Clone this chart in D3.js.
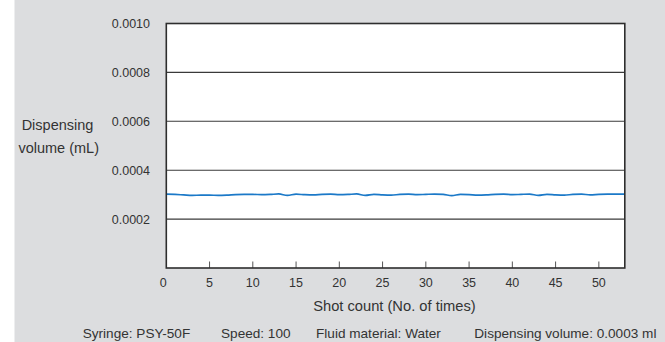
<!DOCTYPE html>
<html><head><meta charset="utf-8">
<script src="https://cdn.jsdelivr.net/npm/d3@7"></script>
<style>
html,body{margin:0;padding:0;background:#fff;}
svg{display:block;font-family:"Liberation Sans",Arial,sans-serif;}
</style></head>
<body>
<svg id="chart" width="665" height="342"></svg>
<script>
// Data
const shots = d3.range(0, 54);
const volumes = [
 0.000302,0.000301,0.000299,0.000297,0.000298,0.000298,0.000297,0.000298,0.000300,0.000301,
 0.000301,0.000300,0.000301,0.000303,0.000297,0.000302,0.000300,0.000299,0.000301,0.000302,
 0.000300,0.000301,0.000303,0.000297,0.000301,0.000299,0.000298,0.000301,0.000302,0.000300,
 0.000301,0.000302,0.000301,0.000296,0.000301,0.000300,0.000298,0.000299,0.000301,0.000302,
 0.000300,0.000301,0.000302,0.000297,0.000301,0.000299,0.000298,0.000301,0.000302,0.000299,
 0.000301,0.000302,0.000302,0.000302
];
const xTicks = [5,10,15,20,25,30,35,40,45,50];
const xTickLabels = ["0","5","10","15","20","25","30","35","40","45","50"];
const yTicks = [0.0002,0.0004,0.0006,0.0008,0.0010];
const yTickLabels = ["0.0002","0.0004","0.0006","0.0008","0.0010"];
const yTitle = ["Dispensing","volume (mL)"];
const xTitle = "Shot count (No. of times)";
const footer = [
  {text:"Syringe: PSY-50F", x:82.7},
  {text:"Speed: 100", x:221},
  {text:"Fluid material: Water", x:316},
  {text:"Dispensing volume: 0.0003 ml", x:474.3}
];

const svg = d3.select("#chart");
// background
svg.append("rect").attr("x",14.5).attr("y",0).attr("width",665-14.5).attr("height",342).attr("fill","#dcdddf");

const x = d3.scaleLinear().domain([0,53]).range([166.3,624.8]);
const y = d3.scaleLinear().domain([0,0.0010]).range([268,23.5]);

// plot area
svg.append("rect").attr("x",x(0)).attr("y",y(0.001)).attr("width",x(53)-x(0)).attr("height",y(0)-y(0.001)).attr("fill","#fff");

// gridlines
svg.append("g").selectAll("line").data(yTicks.slice(0,4)).join("line")
  .attr("x1",x(0)).attr("x2",x(53)).attr("y1",d=>y(d)).attr("y2",d=>y(d))
  .attr("stroke","#3a3a3a").attr("stroke-width",1.1);

// x ticks (inward)
svg.append("g").selectAll("line").data(xTicks).join("line")
  .attr("x1",d=>x(d)).attr("x2",d=>x(d)).attr("y1",y(0)).attr("y2",y(0)-6.5)
  .attr("stroke","#555").attr("stroke-width",1);

// line
const line = d3.line().x((d,i)=>x(shots[i])).y(d=>y(d)).curve(d3.curveMonotoneX);
svg.append("path").datum(volumes).attr("d",line).attr("fill","none")
  .attr("stroke","#1b79c8").attr("stroke-width",1.6);

// frame
svg.append("rect").attr("x",x(0)).attr("y",y(0.001)).attr("width",x(53)-x(0)).attr("height",y(0)-y(0.001))
  .attr("fill","none").attr("stroke","#2e2e2e").attr("stroke-width",1.6);

// y tick labels
svg.append("g").selectAll("text").data(yTicks).join("text")
  .attr("x",150).attr("y",d=>y(d)+4.5).attr("text-anchor","end")
  .attr("font-size",12.5).attr("fill","#333").text((d,i)=>yTickLabels[i]);

// x tick labels
const xLabVals = [0].concat(xTicks);
svg.append("g").selectAll("text").data(xLabVals).join("text")
  .attr("x",(d,i)=> i===0 ? x(d)-3 : x(d)).attr("y",286.5).attr("text-anchor","middle")
  .attr("font-size",12.5).attr("fill","#333").text((d,i)=>xTickLabels[i]);

// y title
svg.append("text").attr("x",57.5).attr("y",129.5).attr("text-anchor","middle")
  .attr("font-size",14.5).attr("fill","#333").text(yTitle[0]);
svg.append("text").attr("x",58.7).attr("y",153).attr("text-anchor","middle")
  .attr("font-size",14.5).attr("fill","#333").text(yTitle[1]);

// x title
svg.append("text").attr("x",394.4).attr("y",310.5).attr("text-anchor","middle")
  .attr("font-size",14.7).attr("fill","#333").text(xTitle);

// footer (kept fully visible)
svg.append("g").selectAll("text").data(footer).join("text")
  .attr("x",d=>d.x).attr("y",338).attr("font-size",13.6).attr("fill","#333").text(d=>d.text);
</script>
</body></html>
